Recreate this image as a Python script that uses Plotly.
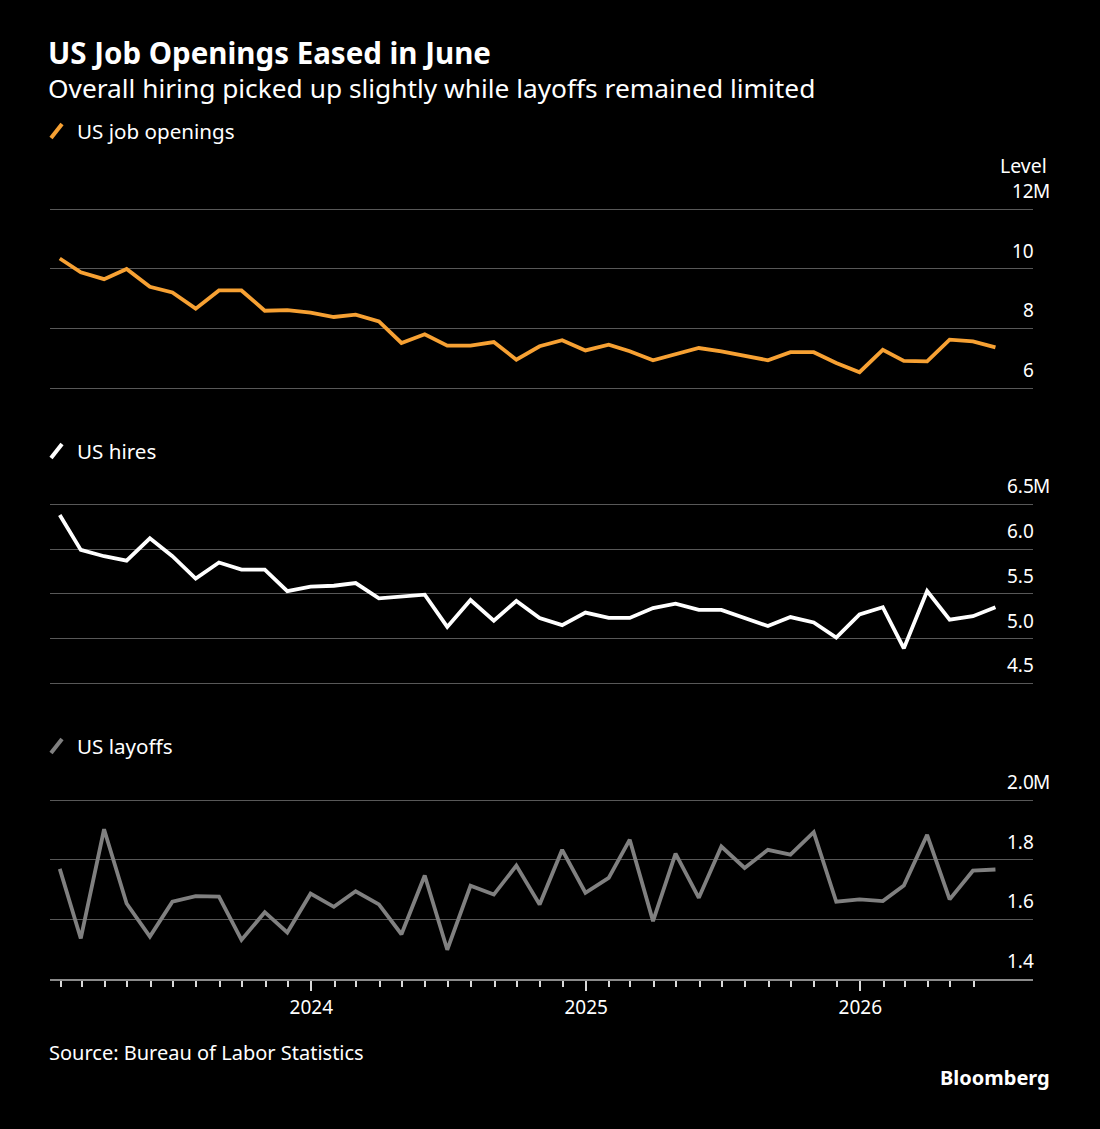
import pandas as pd
import plotly.graph_objects as go

# Monthly data, Jan 2023 - Jun 2026 (millions), plotted at month end
months = pd.date_range("2023-01-31", periods=42, freq="ME")

openings = [10.34, 9.88, 9.65, 9.99, 9.39, 9.20, 8.66, 9.27, 9.27, 8.59,
            8.61, 8.53, 8.38, 8.46, 8.23, 7.51, 7.80, 7.42, 7.42, 7.54,
            6.95, 7.40, 7.60, 7.26, 7.45, 7.23, 6.93, 7.12, 7.34, 7.23,
            7.09, 6.93, 7.20, 7.20, 6.84, 6.53, 7.28, 6.91, 6.89, 7.62,
            7.56, 7.36]

hires = [6.38, 5.99, 5.92, 5.87, 6.12, 5.92, 5.67, 5.85, 5.77, 5.77,
         5.53, 5.58, 5.59, 5.62, 5.45, 5.47, 5.49, 5.13, 5.43, 5.20,
         5.42, 5.23, 5.15, 5.29, 5.23, 5.23, 5.34, 5.39, 5.32, 5.32,
         5.23, 5.14, 5.24, 5.18, 5.01, 5.27, 5.35, 4.89, 5.53, 5.21,
         5.25, 5.35]

layoffs = [1.769, 1.536, 1.902, 1.653, 1.542, 1.659, 1.678, 1.676, 1.531, 1.624,
           1.556, 1.686, 1.642, 1.694, 1.650, 1.550, 1.747, 1.498, 1.713, 1.683,
           1.780, 1.650, 1.833, 1.689, 1.739, 1.867, 1.594, 1.820, 1.672, 1.844,
           1.772, 1.833, 1.817, 1.892, 1.659, 1.667, 1.661, 1.713, 1.883, 1.667,
           1.763, 1.767]

open_ticks = [6, 8, 10, 12]
open_labels = ["6", "8", "10", "12"]
hires_ticks = [4.5, 5.0, 5.5, 6.0, 6.5]
hires_labels = ["4.5", "5.0", "5.5", "6.0", "6.5"]
layoff_ticks = [1.4, 1.6, 1.8, 2.0]
layoff_labels = ["1.4", "1.6", "1.8", "2.0"]

year_ticks = ["2024-01-01", "2025-01-01", "2026-01-01"]
year_labels = ["2024", "2025", "2026"]
month_ticks = [d for d in pd.date_range("2023-02-01", "2026-06-01", freq="MS") if d.month != 1]

ORANGE = "#F7A133"
WHITE = "#FFFFFF"
GREY = "#808080"
GRID = "#585858"
FONT = "Noto Sans"

# page geometry (pixels)
W, H = 1100, 1129
L, R, T, B = 50, 67, 205, 150


def pyp(p):
    # pixel y -> paper y
    return (H - B - p) / (H - T - B)


def pxp(p):
    return (p - L) / (W - L - R)


# pixel rows of the top and bottom gridlines of each panel
panels = [(209, 388), (504.3, 683.3), (800, 979)]
ranges = [(6, 12), (4.5, 6.5), (1.4, 2.0)]
PAD = 3  # keep edge gridlines inside the plot area

fig = go.Figure()
series = [(openings, ORANGE, "y"), (hires, WHITE, "y2"), (layoffs, GREY, "y3")]
for i, (vals, col, ya) in enumerate(series):
    fig.add_trace(go.Scatter(
        x=months, y=vals, mode="lines",
        line=dict(color=col, width=3.8),
        xaxis="x" if i == 0 else f"x{i + 1}", yaxis=ya,
        hoverinfo="x+y"
    ))

xrange = ["2023-01-18", "2026-08-19"]
xbase = dict(range=xrange, type="date", showgrid=False, zeroline=False,
             fixedrange=True)

layout = dict(
    width=W, height=H,
    paper_bgcolor="#000000", plot_bgcolor="#000000",
    margin=dict(l=L, r=R, t=T, b=B),
    showlegend=False,
    font=dict(family=FONT, color=WHITE, size=19),
    xaxis=dict(**xbase, anchor="y", showticklabels=False, ticks=""),
    xaxis2=dict(**xbase, anchor="y2", matches="x", showticklabels=False, ticks=""),
    xaxis3=dict(**xbase, anchor="y3", matches="x",
                showline=True, linecolor="#8a8a8a", linewidth=1.5,
                tickmode="array", tickvals=year_ticks, ticktext=year_labels,
                ticks="outside", ticklen=10, tickwidth=1.5, tickcolor="#d9d9d9",
                tickfont=dict(size=19, color=WHITE),
                minor=dict(tickmode="array", tickvals=month_ticks, ticks="outside",
                           ticklen=6, tickwidth=1.5, tickcolor="#d9d9d9",
                           showgrid=False)),
)

ticksets = [(open_ticks, open_labels), (hires_ticks, hires_labels),
            (layoff_ticks, layoff_labels)]
annotations = []
for i, ((top, bot), (lo, hi), (tv, tl)) in enumerate(zip(panels, ranges, ticksets)):
    name = "yaxis" if i == 0 else f"yaxis{i + 1}"
    ref = "y" if i == 0 else f"y{i + 1}"
    last = i == 2
    per_px = (hi - lo) / (bot - top)
    pad_bot = 0 if last else PAD
    layout[name] = dict(
        domain=[pyp(bot + pad_bot), pyp(top - PAD)],
        range=[lo - pad_bot * per_px, hi + PAD * per_px],
        tickmode="array", tickvals=tv, showticklabels=False,
        showgrid=True, gridcolor=GRID, gridwidth=1,
        zeroline=False, showline=False, ticks="", fixedrange=True,
        anchor="x" if i == 0 else f"x{i + 1}"
    )
    for v, t in zip(tv, tl):
        annotations.append(dict(
            x=1, xref="paper", y=v, yref=ref, text=t, showarrow=False,
            xanchor="right", yanchor="middle", yshift=18, xshift=2,
            borderpad=0, font=dict(size=19, color=WHITE)
        ))
    annotations.append(dict(
        x=1, xref="paper", y=tv[-1], yref=ref, text="M", showarrow=False,
        xanchor="left", yanchor="middle", yshift=18, xshift=-1,
        borderpad=0, font=dict(size=19, color=WHITE)
    ))

# texts around the panels
texts = [
    ("<b>US Job Openings Eased in June</b>", 47, 52, 29.5, "left"),
    ("Overall hiring picked up slightly while layoffs remained limited", 47, 88, 26.3, "left"),
    ("US job openings", 76, 131, 20.6, "left"),
    ("US hires", 76, 451, 20.6, "left"),
    ("US layoffs", 76, 746, 20.6, "left"),
    ("Source: Bureau of Labor Statistics", 48, 1052, 20, "left"),
    ("<b>Bloomberg</b>", 1051, 1077, 20, "right"),
]
for t, x, y, s, anc in texts:
    annotations.append(dict(
        x=pxp(x), xref="paper", y=pyp(y), yref="paper", text=t,
        showarrow=False, xanchor=anc, yanchor="middle", borderpad=0,
        font=dict(size=s, color=WHITE)
    ))
annotations.append(dict(
    x=1, xref="paper", y=pyp(165.5), yref="paper", text="Level",
    showarrow=False, xanchor="right", yanchor="middle", xshift=15,
    borderpad=0, font=dict(size=19.5, color=WHITE)
))
layout["annotations"] = annotations

# legend slashes
shapes = []
for col, cy in [(ORANGE, 131), (WHITE, 451), (GREY, 746)]:
    shapes.append(dict(
        type="line", xref="paper", yref="paper",
        x0=pxp(51), y0=pyp(cy + 7), x1=pxp(62), y1=pyp(cy - 7),
        line=dict(color=col, width=4)
    ))
layout["shapes"] = shapes

fig.update_layout(**layout)
fig.write_html(
    "out.html",
    config={"displayModeBar": False},
    post_script="document.body.style.margin='0';document.body.style.background='#000';",
)
